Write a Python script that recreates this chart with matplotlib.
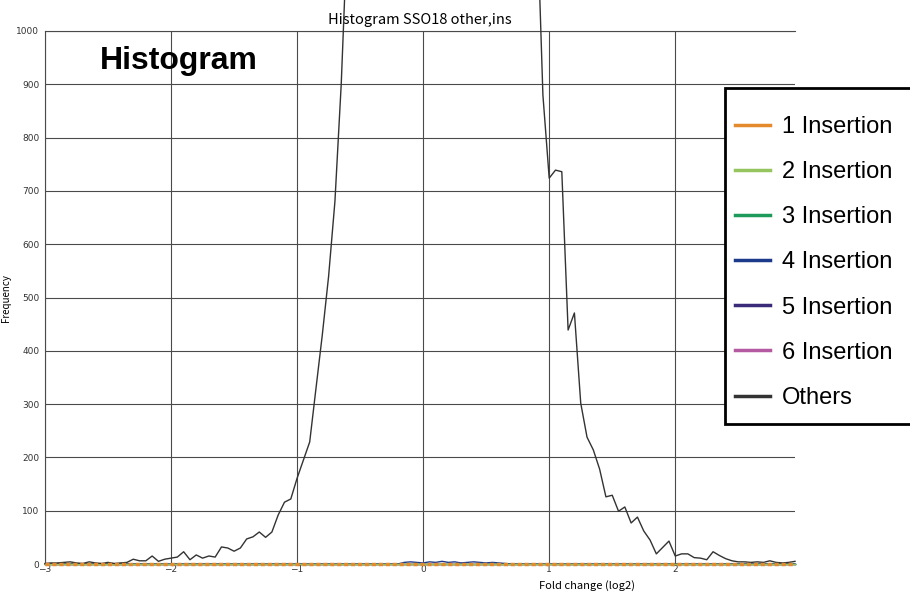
import numpy as np
import matplotlib
matplotlib.use("Agg")
from matplotlib import pyplot as plt
from matplotlib.patches import Rectangle

# Fold change bins (log2), 0.05 wide
bins = np.round(np.arange(-3.0, 2.951, 0.05), 2)

# Counts for reads not carrying a known insertion
others = [
    1, 2, 2, 3, 4, 2, 1, 4, 2, 1,
    3, 1, 2, 3, 9, 6, 6, 15, 5, 9,
    11, 13, 23, 8, 17, 11, 15, 13, 32, 30,
    24, 30, 47, 51, 60, 50, 60, 92, 116, 122,
    161, 195, 229, 330, 430, 540, 680, 900,
    1200, 1650, 2200, 2800, 3400, 3950, 4400, 4800, 5100, 5300,
    5450, 5500, 5480, 5400, 5250, 5050, 4800, 4500, 4200, 3850,
    3500, 3200, 2900, 2650, 2400, 2200, 2050, 1900, 1750, 1550,
    1250, 880,
    724, 739, 736, 439, 471, 302, 238, 214, 178, 126,
    129, 99, 107, 77, 88, 62, 45, 19, 31, 43,
    15, 19, 19, 12, 11, 8, 23, 16, 10, 6,
    4, 4, 3, 4, 3, 6, 3, 2, 3, 5,
]

# insertion classes are flat at zero, apart from a few counts around 0
ins_low_bins = [-0.15, -0.1, -0.05, 0.0, 0.05, 0.1, 0.15, 0.2, 0.25,
                0.3, 0.35, 0.4, 0.45, 0.5, 0.55, 0.6, 0.65]
ins4_low = [3, 4, 3, 2, 4, 3, 5, 3, 4, 2, 3, 4, 3, 2, 3, 2, 1]

ins_labels = ["1 Insertion", "2 Insertion", "3 Insertion", "4 Insertion",
              "5 Insertion", "6 Insertion"]
ins_colors = ["#e58a2c", "#96c45e", "#1e9a5a", "#1b3a8c", "#3b2a78", "#b35aa3"]

ins_counts = {lab: np.zeros(len(bins)) for lab in ins_labels}
idx = np.searchsorted(bins, np.round(ins_low_bins, 2))
ins_counts["4 Insertion"][idx] = ins4_low

fig = plt.figure(figsize=(9.10, 5.94), dpi=100)
ax = fig.add_axes([45 / 910, 30 / 594, 750 / 910, 533 / 594])

grid_c = "#4a4a4a"
ax.set_xlim(-3, 2.95)
ax.set_ylim(0, 1000)
ax.set_xticks([-3, -2, -1, 0, 1, 2])
ax.set_yticks(np.arange(0, 1001, 100))
ax.grid(True, color=grid_c, lw=0.8)
ax.set_axisbelow(True)
ax.tick_params(length=0, labelsize=6.5, colors="#333333")
ax.tick_params(axis="x", pad=1)
ax.tick_params(axis="y", pad=4)
for side in ["left", "top", "bottom"]:
    ax.spines[side].set_color(grid_c)
    ax.spines[side].set_linewidth(0.8)
ax.spines["right"].set_visible(False)

lines = []
for lab, col in zip(ins_labels[::-1], ins_colors[::-1]):
    if lab == "1 Insertion":
        ln, = ax.plot(bins, ins_counts[lab], color=col, lw=2.5,
                      ls=(0, (1.2, 0.8)), zorder=5, clip_on=False)
    else:
        ln, = ax.plot(bins, ins_counts[lab], color=col, lw=1.0, zorder=4,
                      clip_on=False)
    lines.append(ln)
lines = lines[::-1]
ln_o, = ax.plot(bins, others, color="#333333", lw=1.0, zorder=4.5, clip_on=False)
lines.append(ln_o)

ax.set_title("Histogram SSO18 other,ins", fontsize=10.5, pad=5,
             family=["Noto Sans CJK JP", "DejaVu Sans"])
ax.set_xlabel("Fold change (log2)", fontsize=8,
              family=["Noto Sans CJK JP", "DejaVu Sans"])
ax.xaxis.set_label_coords((587 - 45) / 750, -0.03)
ax.set_ylabel("Frequency", fontsize=7,
              family=["Noto Sans CJK JP", "DejaVu Sans"])
ax.yaxis.set_label_coords(-0.045, 0.5)

fig.text(100 / 910, 1 - 61 / 594, "Histogram", fontsize=23, fontweight="bold",
         family="Liberation Sans", va="center", ha="left")

# legend frame runs past the right edge of the figure
fig.patches.append(Rectangle((725 / 910, 1 - 424 / 594), 200 / 910, 336 / 594,
                             transform=fig.transFigure, facecolor="white",
                             edgecolor="black", lw=2, zorder=10))
leg = fig.legend(lines, ins_labels + ["Others"], loc="upper left",
                 bbox_to_anchor=(735 / 910, 1 - 116 / 594),
                 prop={"family": "Liberation Sans", "size": 17},
                 frameon=False, handlelength=1.5, handletextpad=0.5,
                 labelspacing=0.98, borderpad=0, borderaxespad=0)
leg.set_zorder(11)
for h in leg.legend_handles:
    h.set_linestyle("-")
    h.set_linewidth(2.5)

fig.savefig("out.png", dpi=100)
